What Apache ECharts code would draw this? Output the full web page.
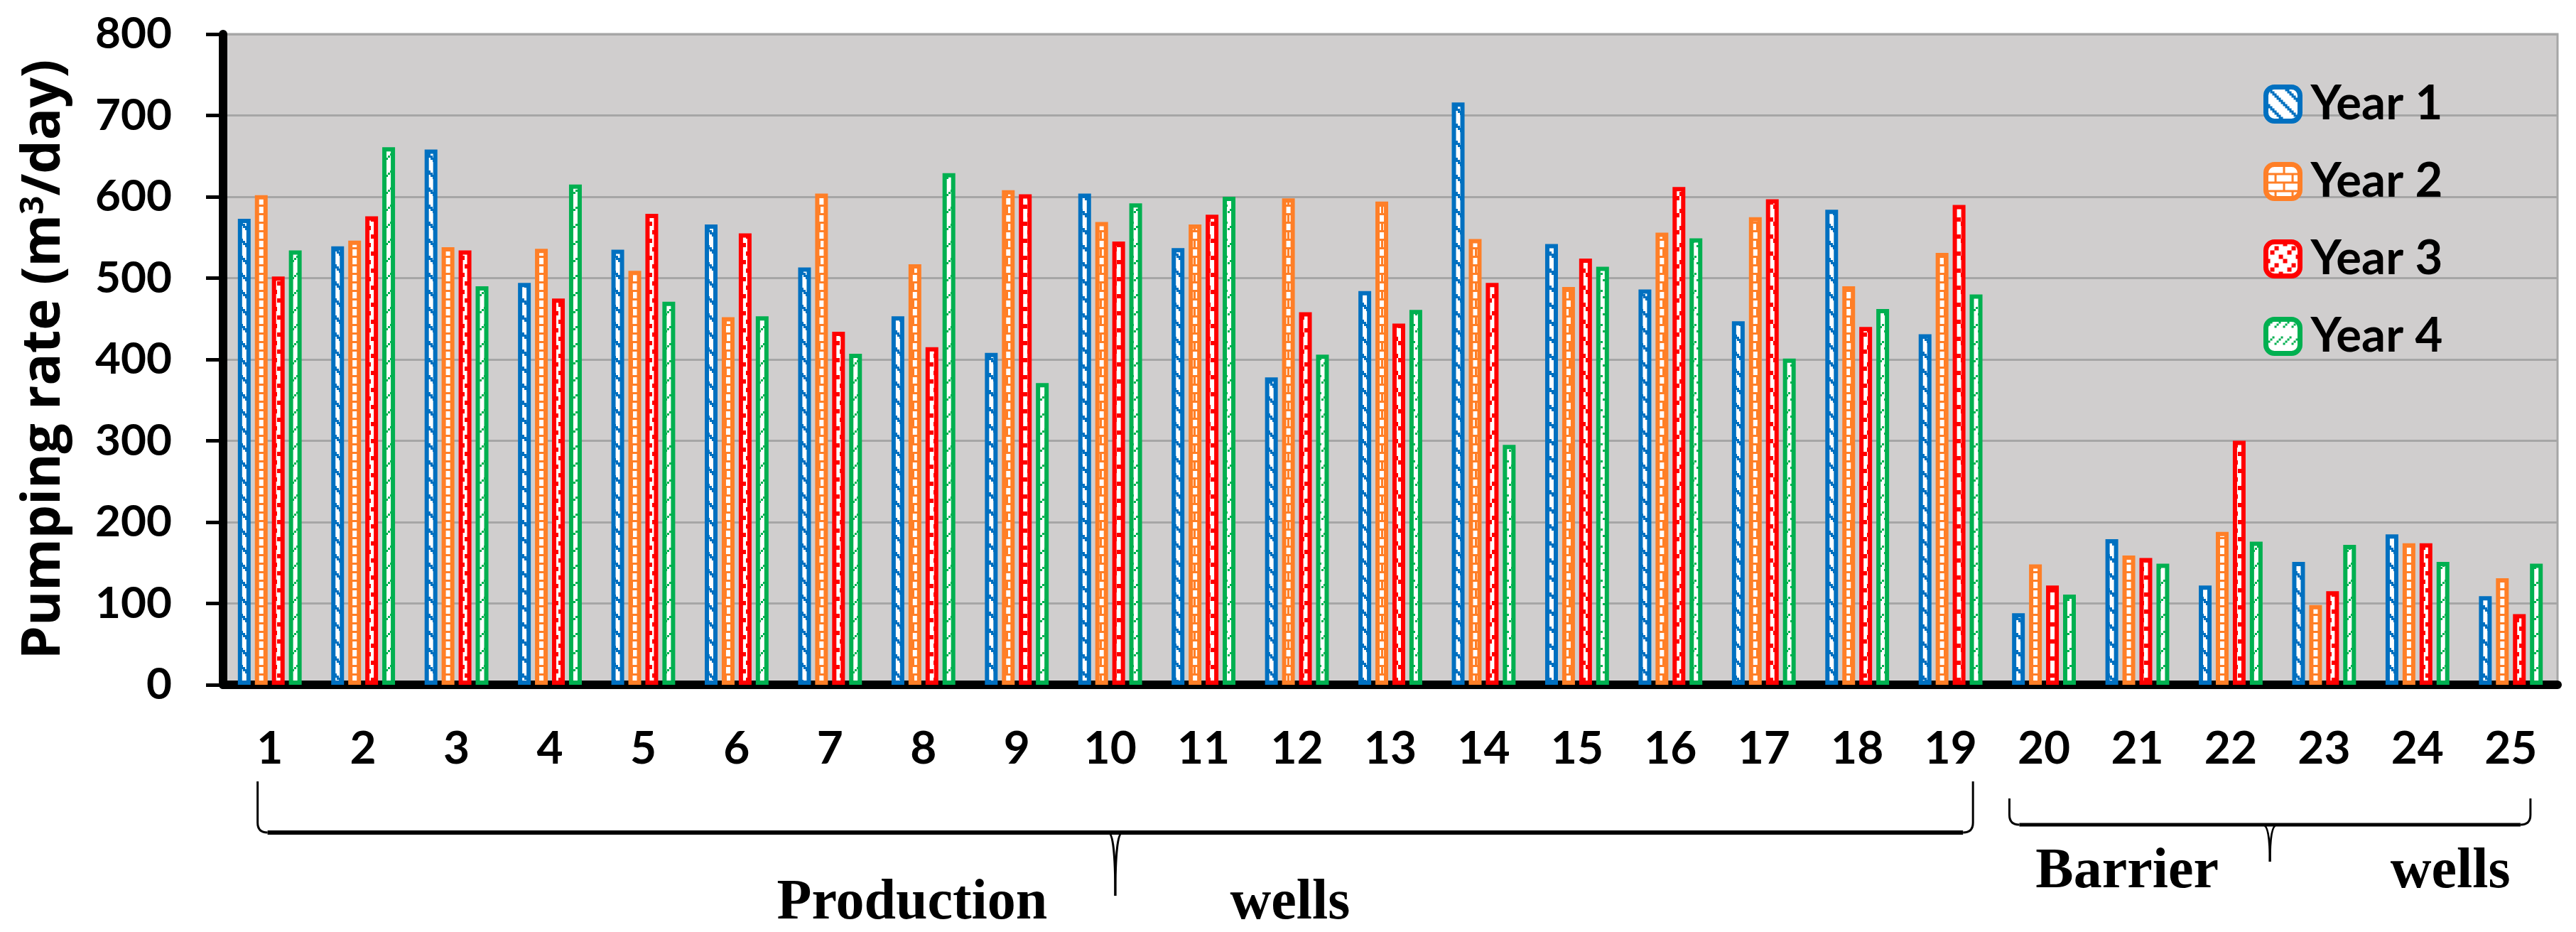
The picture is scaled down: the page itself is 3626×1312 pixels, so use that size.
<!DOCTYPE html>
<html>
<head>
<meta charset="utf-8">
<script src="https://cdn.jsdelivr.net/npm/echarts/dist/echarts.min.js"></script>
<style>
html, body { margin: 0; padding: 0; background: #fff; }
#main { width: 3626px; height: 1312px; }
</style>
</head>
<body>
<div id="main"></div>
<script>
// well numbers (1-19 production, 20-25 barrier)
var wells = ['1', '2', '3', '4', '5', '6', '7', '8', '9', '10', '11', '12', '13',
    '14', '15', '16', '17', '18', '19', '20', '21', '22', '23', '24', '25'];
var seriesNames = ['Year 1', 'Year 2', 'Year 3', 'Year 4'];
// pumping rate, m3/day
var year1 = [573, 539, 658, 494, 535, 566, 513, 453, 408, 604, 537, 378, 484, 716, 542, 486, 447, 584, 431, 88, 179, 122, 151, 185, 109];
var year2 = [602, 546, 538, 536, 509, 452, 604, 517, 608, 569, 566, 598, 594, 548, 489, 556, 575, 490, 531, 148, 159, 188, 98, 174, 131];
var year3 = [502, 576, 534, 475, 579, 555, 434, 415, 603, 545, 578, 458, 444, 494, 524, 612, 597, 440, 590, 122, 156, 300, 115, 174, 87];
var year4 = [534, 661, 490, 615, 471, 453, 407, 629, 371, 592, 600, 406, 461, 295, 514, 549, 401, 462, 480, 111, 149, 176, 172, 151, 149];
var groupNames = ['Production', 'wells', 'Barrier', 'wells'];

var colors = ['#0070C0', '#FF7F27', '#FF0000', '#00B050'];
// 8x8 excel-like fill patterns
var patterns = [
    ['11000000', '01100000', '00110000', '00011000', '00001100', '00000110', '00000011', '10000001'], // wide down diagonal
    ['11111111', '10000000', '10000000', '10000000', '11111111', '00001000', '00001000', '00001000'], // horizontal brick
    ['11000000', '11000000', '00001100', '00001100', '00110000', '00110000', '00000011', '00000011'], // confetti
    ['00010001', '00100010', '01000100', '10001000', '00000000', '00000000', '00000000', '00000000']  // dashed up diagonal
];

function makePattern(color, rows, cell) {
    var cv = document.createElement('canvas');
    cv.width = cv.height = 8 * cell;
    var ctx = cv.getContext('2d');
    ctx.fillStyle = '#fff';
    ctx.fillRect(0, 0, cv.width, cv.height);
    ctx.fillStyle = color;
    for (var y = 0; y < 8; y++) {
        for (var x = 0; x < 8; x++) {
            if (rows[y][x] == '1') ctx.fillRect(x * cell, y * cell, cell, cell);
        }
    }
    return cv;
}

var allData = [year1, year2, year3, year4];
var seriesList = [];
for (var i = 0; i < 4; i++) {
    seriesList.push({
        name: seriesNames[i],
        type: 'bar',
        barWidth: 18,
        barGap: '33%',
        itemStyle: {
            color: { image: makePattern(colors[i], patterns[i], 3), repeat: 'repeat' },
            borderColor: colors[i],
            borderWidth: 6
        },
        data: allData[i]
    });
}

var myChart = echarts.init(document.getElementById('main'));
var option = {
    backgroundColor: '#fff',
    animation: false,
    grid: {
        left: 314,
        right: 26,
        top: 48,
        bottom: 348,
        show: true,
        backgroundColor: '#D0CECE',
        borderColor: '#A6A6A6',
        borderWidth: 3
    },
    legend: {
        orient: 'vertical',
        left: 3186,
        top: 113,
        padding: 0,
        itemWidth: 48,
        itemHeight: 48,
        itemGap: 42,
        itemStyle: { borderWidth: 7 },
        textStyle: {
            fontFamily: 'Lato',
            fontWeight: 'bold',
            fontSize: 67,
            padding: [0, 0, 0, 10],
            color: '#000'
        },
        data: seriesNames
    },
    xAxis: {
        type: 'category',
        data: wells,
        axisLine: { lineStyle: { color: '#000', width: 12 } },
        axisTick: { show: false },
        axisLabel: {
            margin: 58,
            fontFamily: 'Lato',
            fontWeight: 'bold',
            fontSize: 64,
            color: '#000'
        }
    },
    yAxis: {
        type: 'value',
        min: 0,
        max: 800,
        interval: 100,
        name: '{a|Pumping rate (m}{s|3}{a|/day)}',
        nameLocation: 'middle',
        nameGap: 214,
        nameTextStyle: {
            fontFamily: 'Open Sans',
            fontWeight: 'bold',
            fontSize: 75,
            rich: {
                a: { fontFamily: 'Open Sans', fontWeight: 'bold', fontSize: 75, color: '#000' },
                s: { fontFamily: 'Open Sans', fontWeight: 'bold', fontSize: 46, color: '#000', verticalAlign: 'top' }
            }
        },
        axisLine: { show: true, lineStyle: { color: '#000', width: 12 } },
        axisTick: { show: true, length: 24, lineStyle: { color: '#000', width: 5 } },
        axisLabel: {
            margin: 72,
            fontFamily: 'Lato',
            fontWeight: 'bold',
            fontSize: 62,
            color: '#000'
        },
        splitLine: { lineStyle: { color: '#A6A6A6', width: 3 } }
    },
    series: seriesList
};
myChart.setOption(option);

// curly brackets under the well groups, placed from the category axis
var px = function (idx) { return myChart.convertToPixel({ xAxisIndex: 0 }, idx); };
var y0 = myChart.convertToPixel({ yAxisIndex: 0 }, 0);
var bw = px(1) - px(0);
var braces = [
    { x1: px(0) - 0.13 * bw, x2: px(18) + 0.24 * bw, top: y0 + 136, line: y0 + 208, tip: y0 + 297, lw: 6, ty: y0 + 308, dl: -286, dr: 246, names: [groupNames[0], groupNames[1]] },
    { x1: px(19) - 0.37 * bw, x2: px(24) + 0.21 * bw, top: y0 + 160, line: y0 + 197, tip: y0 + 249, lw: 5, ty: y0 + 264, dl: -201, dr: 254, names: [groupNames[2], groupNames[3]] }
];
var graphics = [];
var thin = { stroke: '#000', lineWidth: 3, fill: null };
for (var b = 0; b < braces.length; b++) {
    var br = braces[b];
    var mx = (br.x1 + br.x2) / 2, r = 14, s = 10;
    graphics.push({ type: 'line', shape: { x1: br.x1, y1: br.top, x2: br.x1, y2: br.line - r }, style: thin });
    graphics.push({ type: 'bezierCurve', shape: { x1: br.x1, y1: br.line - r, x2: br.x1 + r, y2: br.line, cpx1: br.x1, cpy1: br.line }, style: thin });
    graphics.push({ type: 'line', shape: { x1: br.x2, y1: br.top, x2: br.x2, y2: br.line - r }, style: thin });
    graphics.push({ type: 'bezierCurve', shape: { x1: br.x2, y1: br.line - r, x2: br.x2 - r, y2: br.line, cpx1: br.x2, cpy1: br.line }, style: thin });
    graphics.push({ type: 'bezierCurve', shape: { x1: mx - s, y1: br.line, x2: mx, y2: br.tip, cpx1: mx, cpy1: br.line }, style: thin });
    graphics.push({ type: 'bezierCurve', shape: { x1: mx + s, y1: br.line, x2: mx, y2: br.tip, cpx1: mx, cpy1: br.line }, style: thin });
    graphics.push({
        type: 'line',
        shape: { x1: br.x1 + r, y1: br.line, x2: br.x2 - r, y2: br.line },
        style: { stroke: '#000', lineWidth: br.lw }
    });
    graphics.push({
        type: 'text', x: mx + br.dl, y: br.ty,
        style: { text: br.names[0], font: 'bold 80px "Liberation Serif"', fill: '#000', align: 'center', verticalAlign: 'middle' }
    });
    graphics.push({
        type: 'text', x: mx + br.dr, y: br.ty,
        style: { text: br.names[1], font: 'bold 80px "Liberation Serif"', fill: '#000', align: 'center', verticalAlign: 'middle' }
    });
}
myChart.setOption({ graphic: graphics });
</script>
</body>
</html>
